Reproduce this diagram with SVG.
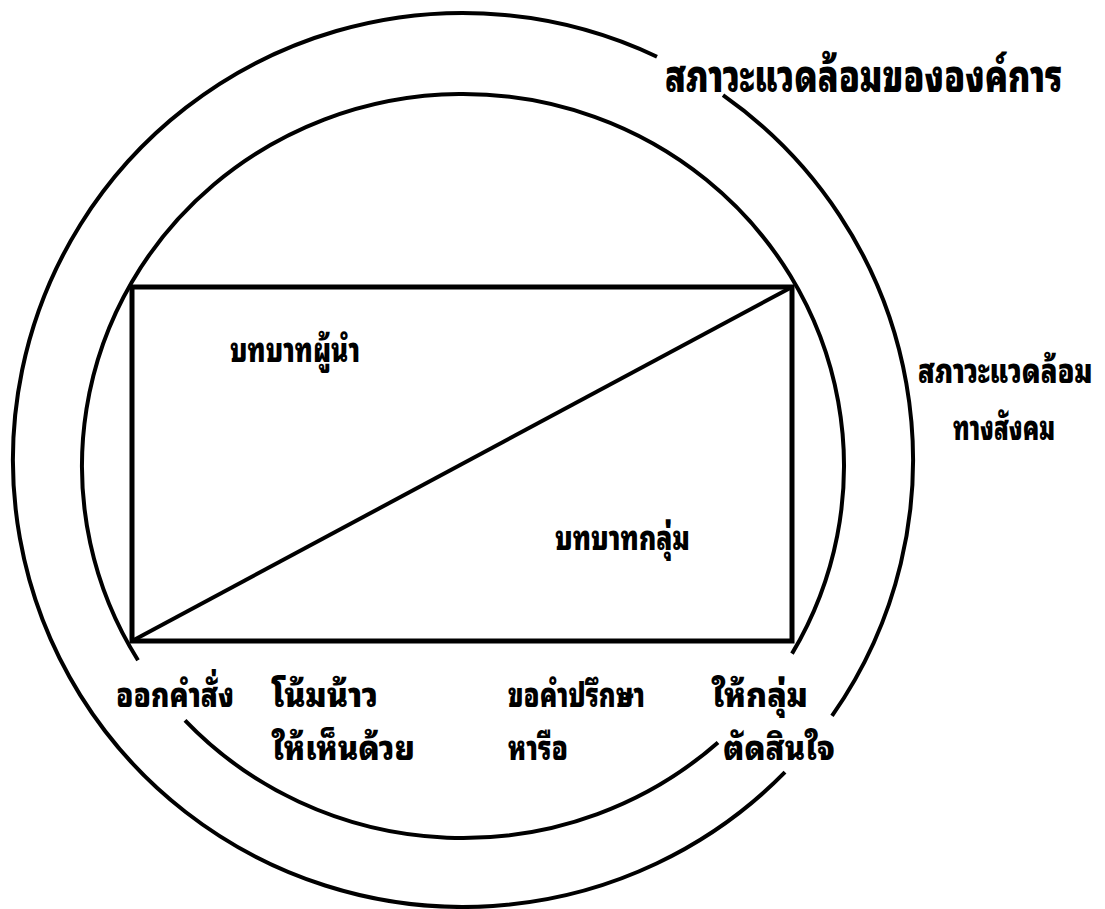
<svg xmlns="http://www.w3.org/2000/svg" width="1105" height="909" viewBox="0 0 1105 909">
<style>
.ln{fill:none;stroke:#000;stroke-width:4;stroke-linecap:butt}
.bx{fill:none;stroke:#000;stroke-width:5}
.dg{stroke:#000;stroke-width:4}
.t{font-family:"Noto Sans Thai Looped","Noto Serif Thai","Noto Sans Thai","Liberation Sans","Noto Sans",sans-serif;font-weight:900;font-size:34px;fill:#000}
.tt{font-size:44px}
</style>
<rect width="1105" height="909" fill="#fff"/>
<g id="connectors">
  <path class="ln" d="M 723 95.2 A 450 447 0 0 1 832 715.9"/>
  <path class="ln" d="M 785 772.2 A 450 447 0 1 1 657 56.7"/>
  <path class="ln" d="M 185 720.4 A 381 372 0 0 0 718 742.4"/>
  <path class="ln" d="M 792 653.6 A 381 372 0 1 0 138 660.2"/>
  <line class="dg" x1="132" y1="641" x2="792" y2="287"/>
</g>
<g id="box"><rect class="bx" x="132" y="287" width="660" height="354"/></g>
<g id="org-env"><text class="t tt" transform="translate(665,92) scale(0.75,1)" x="0" y="0" textLength="530" lengthAdjust="spacingAndGlyphs">สภาวะแวดล้อมขององค์การ</text></g>
<g id="social-env">
  <text class="t" transform="translate(918,383) scale(0.78,1)" x="0" y="0" textLength="224" lengthAdjust="spacingAndGlyphs">สภาวะแวดล้อม</text>
  <text class="t" transform="translate(953,440) scale(0.78,1)" x="0" y="0" textLength="131" lengthAdjust="spacingAndGlyphs">ทางสังคม</text>
</g>
<g id="leader-role"><text class="t" x="230" y="362" textLength="130" lengthAdjust="spacingAndGlyphs">บทบาทผู้นำ</text></g>
<g id="group-role"><text class="t" x="555" y="550" textLength="135" lengthAdjust="spacingAndGlyphs">บทบาทกลุ่ม</text></g>
<g id="tell"><text class="t" x="116" y="707" textLength="118" lengthAdjust="spacingAndGlyphs">ออกคำสั่ง</text></g>
<g id="sell">
  <text class="t" x="272" y="707" textLength="106" lengthAdjust="spacingAndGlyphs">โน้มน้าว</text>
  <text class="t" x="272" y="760" textLength="143" lengthAdjust="spacingAndGlyphs">ให้เห็นด้วย</text>
</g>
<g id="consult">
  <text class="t" x="508" y="707" textLength="137" lengthAdjust="spacingAndGlyphs">ขอคำปรึกษา</text>
  <text class="t" x="508" y="760" textLength="60" lengthAdjust="spacingAndGlyphs">หารือ</text>
</g>
<g id="join">
  <text class="t" x="712" y="707" textLength="96" lengthAdjust="spacingAndGlyphs">ให้กลุ่ม</text>
  <text class="t" x="723" y="760" textLength="112" lengthAdjust="spacingAndGlyphs">ตัดสินใจ</text>
</g>
</svg>
